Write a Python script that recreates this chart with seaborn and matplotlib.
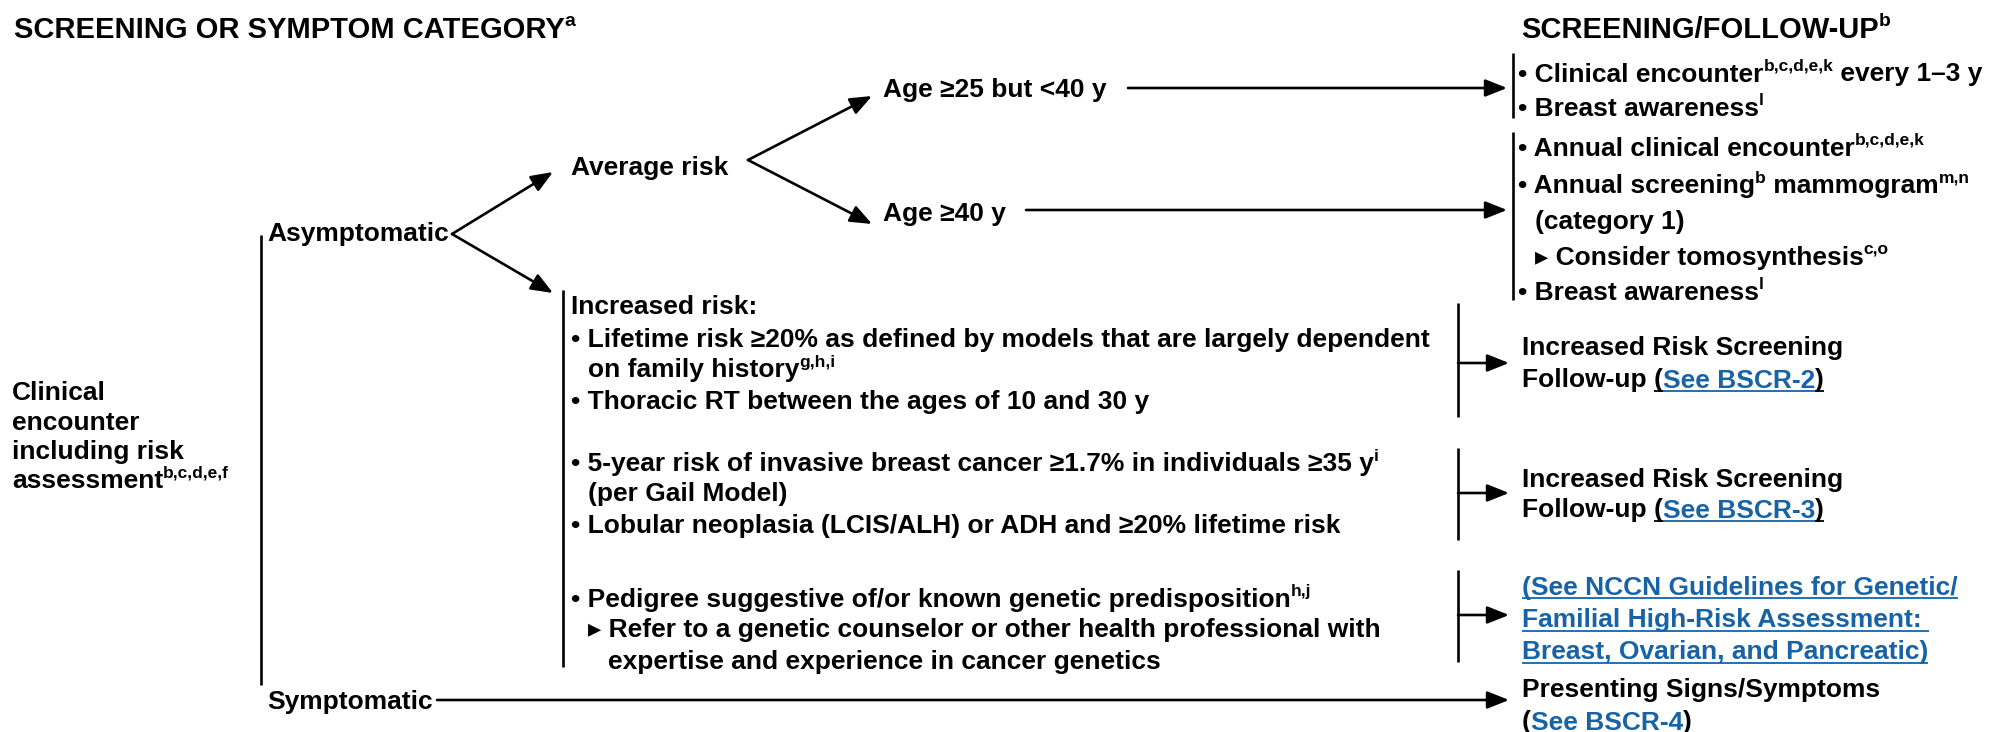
import matplotlib
matplotlib.use("Agg")
import matplotlib.pyplot as plt
import seaborn as sns

# ---- texts of the flowchart (segment kinds: n = normal, sup = superscript,
#      link = blue underlined, u = black underlined) ----
left_title = [("SCREENING OR SYMPTOM CATEGORY", "n"), ("a", "sup")]
right_title = [("SCREENING/FOLLOW-UP", "n"), ("b", "sup")]

root_lines = [
    [("Clinical", "n")],
    [("encounter", "n")],
    [("including risk", "n")],
    [("assessment", "n"), ("b,c,d,e,f", "sup")],
]
branch_labels = ["Asymptomatic", "Symptomatic"]
avg_label = "Average risk"
age_labels = ["Age ≥25 but <40 y", "Age ≥40 y"]

young_followup = [
    (0, [("• Clinical encounter", "n"), ("b,c,d,e,k", "sup"), (" every 1–3 y", "n")]),
    (0, [("• Breast awareness", "n"), ("l", "sup")]),
]
older_followup = [
    (0, [("• Annual clinical encounter", "n"), ("b,c,d,e,k", "sup")]),
    (0, [("• Annual screening", "n"), ("b", "sup"), (" mammogram", "n"), ("m,n", "sup")]),
    (1, [("(category 1)", "n")]),
    (1, [("▸ Consider tomosynthesis", "n"), ("c,o", "sup")]),
    (0, [("• Breast awareness", "n"), ("l", "sup")]),
]

increased_lines = [
    (0, [("Increased risk:", "n")]),
    (0, [("• Lifetime risk ≥20% as defined by models that are largely dependent", "n")]),
    (1, [("on family history", "n"), ("g,h,i", "sup")]),
    (0, [("• Thoracic RT between the ages of 10 and 30 y", "n")]),
    (0, [("• 5-year risk of invasive breast cancer ≥1.7% in individuals ≥35 y", "n"), ("i", "sup")]),
    (1, [("(per Gail Model)", "n")]),
    (0, [("• Lobular neoplasia (LCIS/ALH) or ADH and ≥20% lifetime risk", "n")]),
    (0, [("• Pedigree suggestive of/or known genetic predisposition", "n"), ("h,j", "sup")]),
    (1, [("▸ Refer to a genetic counselor or other health professional with", "n")]),
    (2, [("expertise and experience in cancer genetics", "n")]),
]

outcome_bscr2 = [
    [("Increased Risk Screening", "n")],
    [("Follow-up ", "n"), ("(", "u"), ("See BSCR-2", "link"), (")", "u")],
]
outcome_bscr3 = [
    [("Increased Risk Screening", "n")],
    [("Follow-up ", "n"), ("(", "u"), ("See BSCR-3", "link"), (")", "u")],
]
outcome_genetic = [
    [("(See NCCN Guidelines for Genetic/", "link")],
    [("Familial High-Risk Assessment: ", "link")],
    [("Breast, Ovarian, and Pancreatic)", "link")],
]
outcome_symptom = [
    [("Presenting Signs/Symptoms", "n")],
    [("(", "u"), ("See BSCR-4", "link"), (")", "u")],
]

# ---- style ----
sns.set_theme(style="white")
FAM = ["Liberation Sans", "DejaVu Sans"]
plt.rcParams["font.family"] = FAM
FS = 19.0
TFS = 21.0
LINK = "#1763a6"
LW = 1.9
PX = 100 / 72  # px per point

fig = plt.figure(figsize=(20.09, 7.32), dpi=100)
ax = fig.add_axes([0, 0, 1, 1])
ax.set_xlim(0, 2009)
ax.set_ylim(732, 0)
ax.set_axis_off()
renderer = fig.canvas.get_renderer()


def text_width(s, size):
    t = ax.text(0, 0, "|" + s + "|", fontsize=size, weight="bold")
    w = t.get_window_extent(renderer).width
    t.remove()
    t = ax.text(0, 0, "||", fontsize=size, weight="bold")
    w0 = t.get_window_extent(renderer).width
    t.remove()
    return w - w0


INDENT = [0, text_width("• ", FS), text_width("• ▸ ", FS)]


def draw_line(x, y, segs, size=FS):
    base = y + 0.36 * size * PX
    for s, kind in segs:
        if kind == "sup":
            fs, yb = size * 0.66, base - 0.40 * size * PX
        else:
            fs, yb = size, base
        color = LINK if kind == "link" else "black"
        ax.text(x, yb, s, fontsize=fs, weight="bold", color=color,
                ha="left", va="baseline")
        w = text_width(s, fs)
        if kind in ("link", "u"):
            ax.plot([x, x + w], [base + 3.5, base + 3.5], color=color,
                    lw=1.3, solid_capstyle="butt")
        x += w
    return x


def draw_block(x, ys, lines, indented=False):
    for y, ln in zip(ys, lines):
        if indented:
            lvl, segs = ln
            draw_line(x + INDENT[lvl], y, segs)
        else:
            draw_line(x, y, ln)


def seg(x0, y0, x1, y1):
    ax.plot([x0, x1], [y0, y1], color="black", lw=LW, solid_capstyle="butt")


def arrow(x0, y0, x1, y1):
    ax.annotate("", xy=(x1, y1), xytext=(x0, y0),
                arrowprops=dict(arrowstyle="-|>,head_length=0.6,head_width=0.24",
                                mutation_scale=22, lw=LW, color="black",
                                shrinkA=0, shrinkB=0))


# titles
draw_line(14, 27, left_title, TFS)
draw_line(1521, 27, right_title, TFS)

# root
draw_block(12, [391, 421, 450, 479], root_lines)
seg(261, 235, 261, 685)
draw_line(267, 232, [(branch_labels[0], "n")])
draw_line(267, 700, [(branch_labels[1], "n")])
arrow(437, 700, 1509, 700)

# asymptomatic split
arrow(452, 234, 553, 172)
arrow(452, 234, 553, 293)
draw_line(571, 166, [(avg_label, "n")])

# average risk split
arrow(748, 160, 872, 96)
arrow(748, 160, 872, 224)
draw_line(883, 87, [(age_labels[0], "n")])
draw_line(883, 211, [(age_labels[1], "n")])
arrow(1128, 88, 1507, 88)
arrow(1026, 210, 1507, 210)

# follow-up boxes for average risk
seg(1513, 53, 1513, 118)
draw_block(1518, [72, 106], young_followup, indented=True)
seg(1513, 132, 1513, 300)
draw_block(1518, [146, 184, 220, 255, 290], older_followup, indented=True)

# increased risk block
seg(563, 290, 563, 667)
draw_block(571, [305, 337, 368, 400, 462, 492, 523, 597, 628, 660],
           increased_lines, indented=True)

# increased risk outcomes
for (y0, y1), ya in zip([(303, 417), (448, 540), (570, 662)], [363, 493, 615]):
    seg(1458, y0, 1458, y1)
    arrow(1458, ya, 1509, ya)
draw_block(1522, [345, 378], outcome_bscr2)
draw_block(1522, [477, 508], outcome_bscr3)
draw_block(1522, [585, 618, 650], outcome_genetic)
draw_block(1522, [688, 720], outcome_symptom)

fig.savefig("out.png", dpi=100, facecolor="white")
